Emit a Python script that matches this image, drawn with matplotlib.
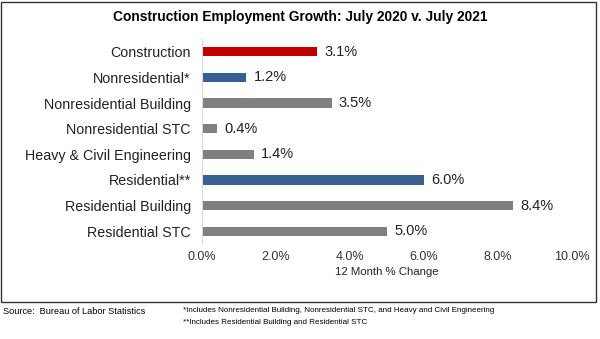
import matplotlib
matplotlib.use('Agg')
import matplotlib.pyplot as plt
from matplotlib.patches import Rectangle

plt.rcParams['font.family'] = ['Liberation Sans', 'DejaVu Sans']

categories = ['Construction', 'Nonresidential*', 'Nonresidential Building',
              'Nonresidential STC', 'Heavy & Civil Engineering', 'Residential**',
              'Residential Building', 'Residential STC']
values = [3.1, 1.2, 3.5, 0.4, 1.4, 6.0, 8.4, 5.0]
colors = ['#C00000', '#366092', '#808080', '#808080', '#808080', '#366092',
          '#808080', '#808080']
xticks = [0, 2, 4, 6, 8, 10]

fig = plt.figure(figsize=(6, 3.39), dpi=100)
ax = fig.add_axes([202/600, 1-244/339, 370/600, 205/339])

ypos = list(range(len(categories)))
ax.barh(ypos, values, height=0.36, color=colors)
for y, v in zip(ypos, values):
    ax.text(v + 0.2, y, '%.1f%%' % v, va='center', ha='left', fontsize=10.5, color='#222222')

ax.set_ylim(len(categories) - 0.5, -0.5)
ax.set_xlim(0, 10)
ax.set_yticks(ypos)
ax.set_yticklabels(categories, fontsize=10.3, color='#222222')
ax.set_xticks(xticks)
ax.set_xticklabels(['%.1f%%' % t for t in xticks], fontsize=9, color='#333333')
ax.tick_params(axis='y', length=0, pad=8)
ax.tick_params(axis='x', length=0, pad=5)
for s in ['top', 'right', 'bottom']:
    ax.spines[s].set_visible(False)
ax.spines['left'].set_color('#d9d9d9')
ax.set_xlabel('12 Month % Change', fontsize=8.2, color='#222222', labelpad=3)

fig.text(0.5, 1-17/339, 'Construction Employment Growth: July 2020 v. July 2021',
         ha='center', va='center', fontsize=9.9, fontweight='bold')

# outer frame
fig.patches.append(Rectangle((1/600, 1-302/339), 595/600, 300/339,
                             transform=fig.transFigure, fill=False,
                             edgecolor='#333333', linewidth=1))

fig.text(3/600, 1-311/339, 'Source:  Bureau of Labor Statistics',
         ha='left', va='center', fontsize=6.6)
fig.text(183/600, 1-311/339,
         '*Includes Nonresidential Building, Nonresidential STC, and Heavy and Civil Engineering',
         ha='left', va='center', fontsize=5.8)
fig.text(183/600, 1-323/339, '**Includes Residential Building and Residential STC',
         ha='left', va='center', fontsize=5.8)

fig.savefig('out.png', dpi=100)
